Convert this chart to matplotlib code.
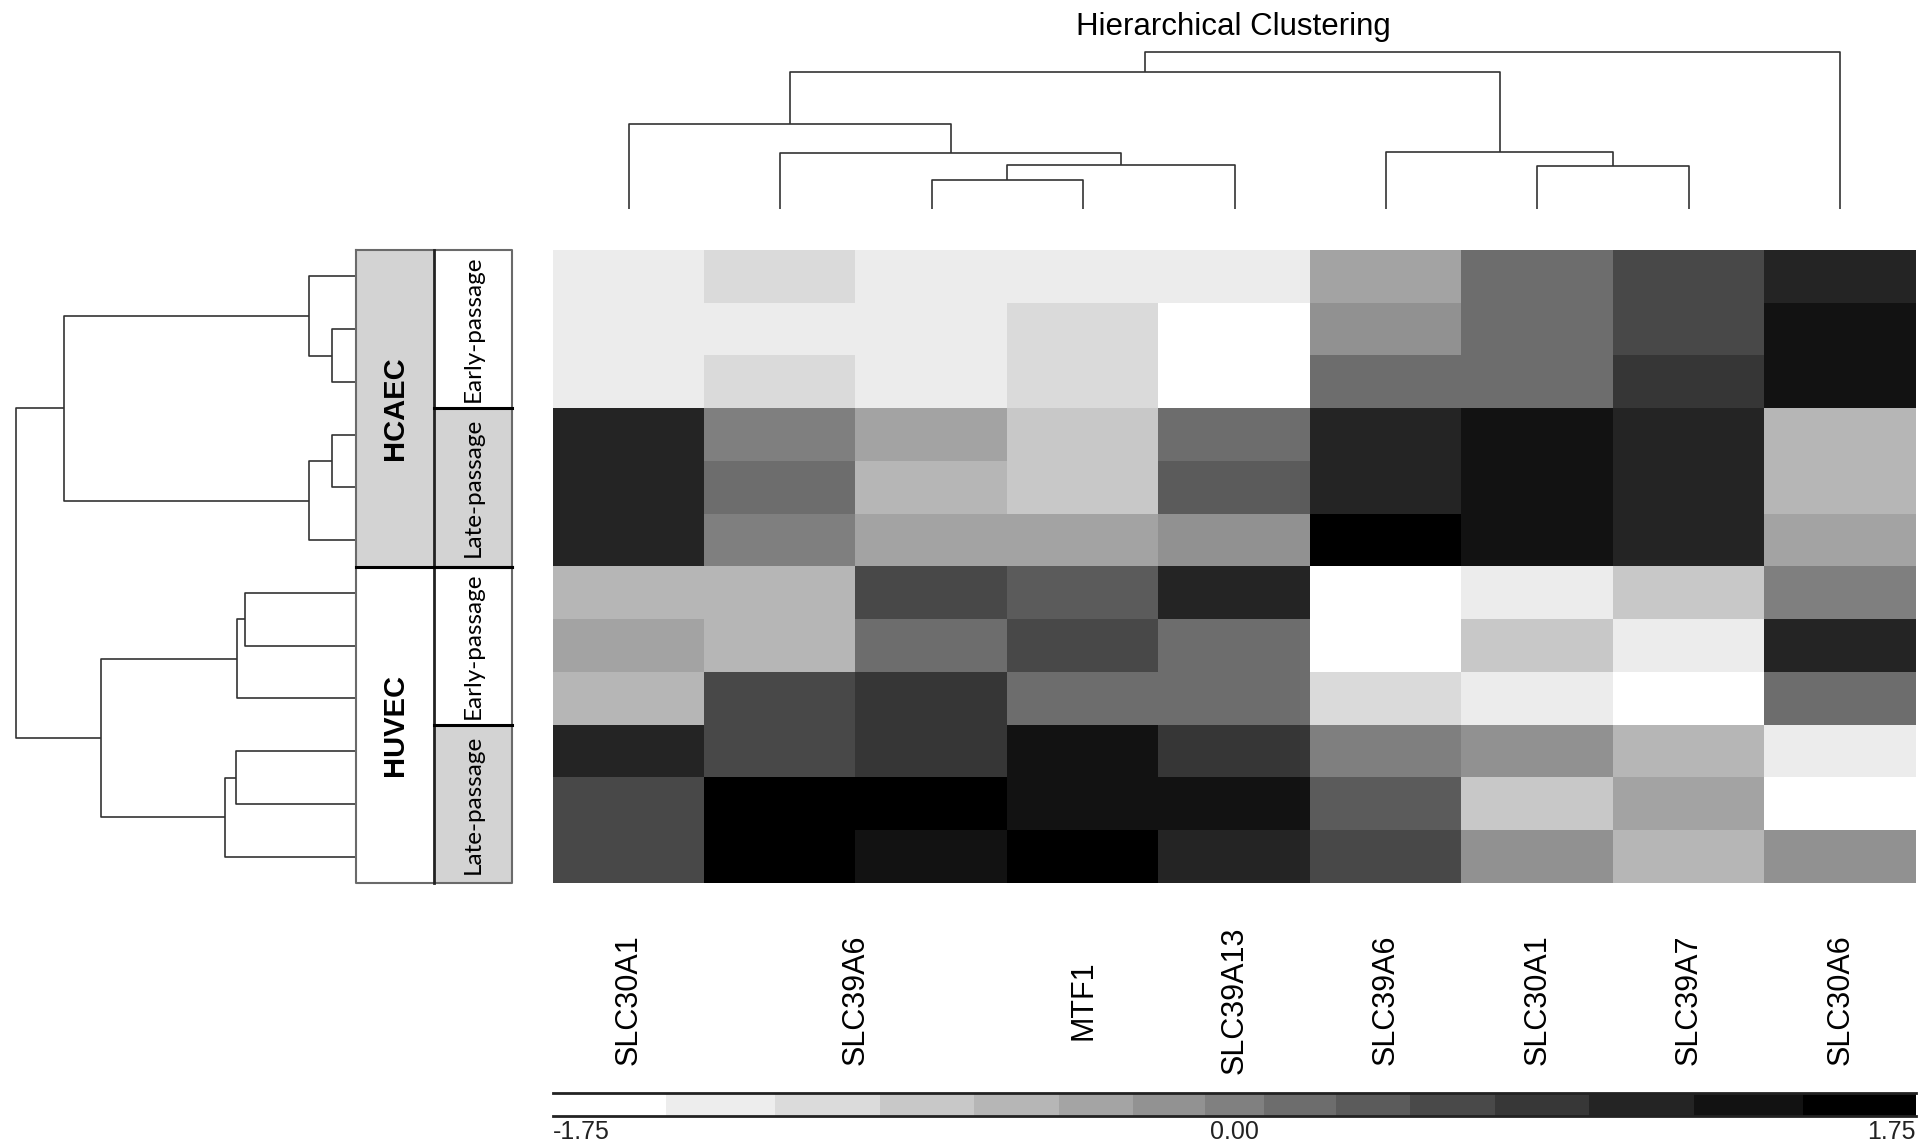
import numpy as np
import matplotlib
matplotlib.use("Agg")
from matplotlib import pyplot as plt
from matplotlib.colors import ListedColormap, BoundaryNorm
from matplotlib.patches import Rectangle
from matplotlib.transforms import blended_transform_factory

# z-scored expression, rows = samples (top to bottom), cols = genes (left to right)
expr = np.array([
    [-1.32, -1.05, -1.32, -1.32, -1.32, -0.36,  0.17,  0.56,  1.05],
    [-1.32, -1.32, -1.32, -1.05, -1.61, -0.17,  0.17,  0.56,  1.32],
    [-1.32, -1.05, -1.32, -1.05, -1.61,  0.17,  0.17,  0.79,  1.32],
    [ 1.05,  0.00, -0.36, -0.79,  0.17,  1.05,  1.32,  1.05, -0.56],
    [ 1.05,  0.17, -0.56, -0.79,  0.36,  1.05,  1.32,  1.05, -0.56],
    [ 1.05,  0.00, -0.36, -0.36, -0.17,  1.61,  1.32,  1.05, -0.36],
    [-0.56, -0.56,  0.56,  0.36,  1.05, -1.61, -1.32, -0.79,  0.00],
    [-0.36, -0.56,  0.17,  0.56,  0.17, -1.61, -0.79, -1.32,  1.05],
    [-0.56,  0.56,  0.79,  0.17,  0.17, -1.05, -1.32, -1.61,  0.17],
    [ 1.05,  0.56,  0.79,  1.32,  0.79,  0.00, -0.17, -0.56, -1.32],
    [ 0.56,  1.61,  1.61,  1.32,  1.32,  0.36, -0.79, -0.36, -1.61],
    [ 0.56,  1.61,  1.32,  1.61,  1.05,  0.56, -0.17, -0.56, -0.17],
])

# colour key bins (non-uniform) and tick labels
bounds = [-1.75, -1.46, -1.18, -0.91, -0.67, -0.45, -0.26, -0.075,
          0.075, 0.26, 0.45, 0.67, 0.91, 1.18, 1.46, 1.75]
key_ticks = [-1.75, 0.0, 1.75]
key_labels = ["-1.75", "0.00", "1.75"]

gene_labels = ["SLC30A1", "SLC39A6", "MTF1", "SLC39A13", "SLC39A6",
               "SLC30A1", "SLC39A7", "SLC30A6"]
gene_label_pos = [0.5, 2.0, 3.5, 4.5, 5.5, 6.5, 7.5, 8.5]

# linkage: [left, right, height], leaves 0..n-1, merges numbered from n
col_link = [
    [2, 3, 0.184],
    [9, 4, 0.281],
    [1, 10, 0.357],
    [0, 11, 0.539],
    [6, 7, 0.275],
    [5, 13, 0.366],
    [12, 14, 0.871],
    [15, 8, 1.000],
]
row_link = [
    [1, 2, 0.071],
    [0, 12, 0.138],
    [3, 4, 0.071],
    [14, 5, 0.138],
    [13, 15, 0.858],
    [6, 7, 0.327],
    [17, 8, 0.349],
    [9, 10, 0.354],
    [19, 11, 0.385],
    [18, 20, 0.750],
    [16, 21, 1.000],
]

cell_lines = ["HCAEC", "HUVEC"]
cell_line_rows = [6, 6]
passages = ["Early-passage", "Late-passage", "Early-passage", "Late-passage"]
passage_rows = [3, 3, 3, 3]

W, H = 1932, 1147
fig = plt.figure(figsize=(W / 100, H / 100), dpi=100)


def px_axes(x0, y0, x1, y1):
    ax = fig.add_axes([x0 / W, 1 - y1 / H, (x1 - x0) / W, (y1 - y0) / H])
    ax.set_axis_off()
    return ax


def dendro_segments(link, n):
    pos = {i: i + 0.5 for i in range(n)}
    hgt = {i: 0.0 for i in range(n)}
    segs = []
    for k, (a, b, h) in enumerate(link):
        segs.append(([pos[a], pos[a], pos[b], pos[b]], [hgt[a], h, h, hgt[b]]))
        pos[n + k] = (pos[a] + pos[b]) / 2
        hgt[n + k] = h
    return segs


n_rows, n_cols = expr.shape
grays = np.linspace(1, 0, len(bounds) - 1)
cmap = ListedColormap([(g, g, g) for g in grays])
norm = BoundaryNorm(bounds, cmap.N)

line_kw = dict(color="#333333", lw=1.2, clip_on=False, solid_capstyle="butt")

# heatmap
ax_hm = px_axes(553, 250, 1916, 883)
ax_hm.imshow(expr, cmap=cmap, norm=norm, aspect="auto",
             interpolation="nearest", extent=(0, n_cols, n_rows, 0))

# gene dendrogram on top
ax_cd = px_axes(553, 52, 1916, 209)
ax_cd.set_xlim(0, n_cols)
ax_cd.set_ylim(0, 1)
for xs, ys in dendro_segments(col_link, n_cols):
    ax_cd.plot(xs, ys, **line_kw)

# sample dendrogram on the left
ax_rd = px_axes(16, 250, 356, 883)
ax_rd.set_xlim(1, 0)
ax_rd.set_ylim(n_rows, 0)
for xs, ys in dendro_segments(row_link, n_rows):
    ax_rd.plot(ys, xs, **line_kw)

# sample annotation boxes
ax_an = px_axes(356, 250, 512, 883)
ax_an.set_xlim(0, 2)
ax_an.set_ylim(n_rows, 0)
start = 0
for i, (name, nr) in enumerate(zip(cell_lines, cell_line_rows)):
    ax_an.add_patch(Rectangle((0, start), 1, nr, facecolor="#d3d3d3" if i % 2 == 0 else "white",
                              edgecolor="none"))
    ax_an.text(0.5, start + nr / 2, name, rotation=90, ha="center", va="center",
               fontsize=21, fontweight="bold", family="Liberation Sans")
    start += nr
start = 0
for i, (name, nr) in enumerate(zip(passages, passage_rows)):
    ax_an.add_patch(Rectangle((1, start), 1, nr, facecolor="white" if i % 2 == 0 else "#d3d3d3",
                              edgecolor="none"))
    ax_an.text(1.5, start + nr / 2, name, rotation=90, ha="center", va="center",
               fontsize=17.5, family=["Lato", "DejaVu Sans"])
    start += nr
ax_an.plot([0, 2, 2, 0, 0], [0, 0, n_rows, n_rows, 0], color="#6a6a6a", lw=1.5, clip_on=False)
ax_an.plot([1, 1], [0, n_rows], color="#222222", lw=2, clip_on=False)
ax_an.plot([0, 2], [cell_line_rows[0]] * 2, color="black", lw=2.2, clip_on=False)
for y in np.cumsum(passage_rows)[:-1]:
    ax_an.plot([1, 2], [y, y], color="black", lw=2.2, clip_on=False)

# gene labels under the heatmap
tr = blended_transform_factory(ax_hm.transData, fig.transFigure)
for lab, x in zip(gene_labels, gene_label_pos):
    ax_hm.text(x, 1 - 1000 / H, lab, transform=tr, rotation=90, ha="center", va="center",
               fontsize=22, family="Liberation Sans")

# colour key
ax_key = fig.add_axes([553 / W, 1 - 1116 / H, 1363 / W, 23 / H])
ax_key.pcolormesh(bounds, [0, 1], np.array([[(a + b) / 2 for a, b in zip(bounds[:-1], bounds[1:])]]),
                  cmap=cmap, norm=norm)
ax_key.set_xlim(bounds[0], bounds[-1])
ax_key.set_ylim(0, 1)
ax_key.set_xticks([])
ax_key.set_yticks([])
for side in ["left", "right"]:
    ax_key.spines[side].set_visible(False)
for side in ["top", "bottom"]:
    ax_key.spines[side].set_linewidth(2)
    ax_key.spines[side].set_color("#222222")
key_tr = blended_transform_factory(ax_key.transData, fig.transFigure)
for t, lab, ha in zip(key_ticks, key_labels, ["left", "center", "right"]):
    ax_key.text(t, 1 - 1120 / H, lab, transform=key_tr, ha=ha, va="top",
                fontsize=18, family=["Liberation Sans Narrow", "Liberation Sans"], color="#222222")

fig.text(1233 / W, 1 - 35 / H, "Hierarchical Clustering", ha="center", va="baseline",
         fontsize=22.5, family="Liberation Sans")

fig.savefig("out.png", dpi=100)
